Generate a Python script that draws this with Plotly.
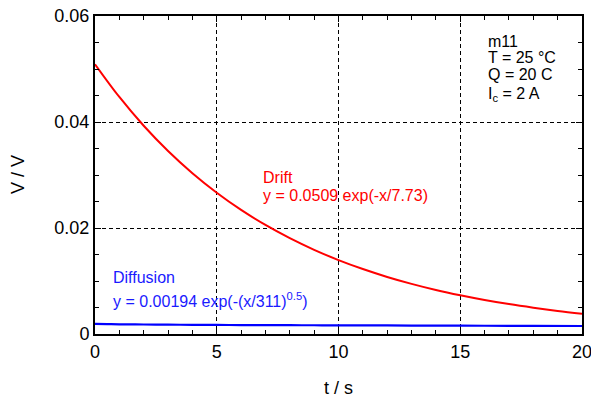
import plotly.graph_objects as go

# Values
t_drift = [0, 1, 2, 3, 4, 5, 6, 7, 8, 9, 10, 11, 12, 13, 14, 15, 16, 17, 18, 19, 20]
v_drift = [0.0509, 0.04472, 0.03929, 0.03452, 0.03033, 0.02665, 0.02341, 0.02057,
           0.01808, 0.01588, 0.01395, 0.01226, 0.01077, 0.00946, 0.00831, 0.00731,
           0.00642, 0.00564, 0.00496, 0.00435, 0.00383]
t_diff = [0, 0.5, 1, 2, 3, 4, 5, 6, 7, 8, 9, 10, 12, 14, 16, 18, 20]
v_diff = [0.00192, 0.00186, 0.00183, 0.00179, 0.00176, 0.00173, 0.00171, 0.00169,
          0.00168, 0.00166, 0.00165, 0.00163, 0.00161, 0.00158, 0.00156, 0.00154, 0.00151]
x_ticks = [0, 5, 10, 15, 20]
y_ticks = [0, 0.02, 0.04, 0.06]
y_ticktext = ["0", "0.02", "0.04", "0.06"]

FONT = "Liberation Sans, Arial, sans-serif"
BLUE = "#1a1aff"

fig = go.Figure()
fig.add_trace(go.Scatter(x=t_drift, y=v_drift, mode="lines",
                         line=dict(color="red", width=2, shape="spline"), showlegend=False))
fig.add_trace(go.Scatter(x=t_diff, y=v_diff, mode="lines",
                         line=dict(color="blue", width=2.2, shape="spline"), showlegend=False))

axis_common = dict(
    showline=True, linecolor="black", linewidth=2, mirror="allticks",
    ticks="inside", ticklen=6, tickwidth=1, tickcolor="black",
    showgrid=True, gridcolor="black", griddash="4px,3px", gridwidth=1,
    zeroline=False, automargin=False, ticklabeloverflow="allow",
    tickfont=dict(size=18, color="black", family=FONT),
)

fig.update_xaxes(range=[0, 20], tickvals=x_ticks,
                 minor=dict(dtick=1, ticks="inside", ticklen=4, tickcolor="black", showgrid=False),
                 **axis_common)
fig.update_yaxes(range=[0, 0.06], tickvals=y_ticks, ticktext=y_ticktext,
                 minor=dict(dtick=0.005, ticks="inside", ticklen=4, tickcolor="black", showgrid=False),
                 **axis_common)

def label(x, y, text, color, size=16):
    fig.add_annotation(xref="x", yref="y", x=x, y=y, text=text, showarrow=False,
                       xanchor="left", yanchor="middle", align="left",
                       font=dict(size=size, color=color, family=FONT))

# info box
label(16.07, 0.05528, "m11", "black", 16)
label(16.07, 0.05211, "T = 25 °C", "black", 16)
label(16.07, 0.04887, "Q = 20 C", "black", 16)
label(16.07, 0.04520, "I<sub>c</sub> = 2 A", "black", 16)
# drift
label(6.80, 0.02950, "Drift", "red")
label(6.80, 0.02613, "y = 0.0509 exp(-x/7.73)", "red")
# diffusion
label(0.67, 0.01065, "Diffusion", BLUE)
label(0.67, 0.00650, "y = 0.00194 exp(-(x/311)<sup>0.5</sup>)", BLUE)

# axis titles
fig.add_annotation(xref="paper", yref="paper", x=0.5, y=-(388 - 334) / 318,
                   text="t / s", showarrow=False, xanchor="center", yanchor="middle",
                   font=dict(size=18, color="black", family=FONT))
fig.add_annotation(xref="paper", yref="paper", x=(18 - 95) / 487, y=0.5,
                   text="V / V", showarrow=False, xanchor="center", yanchor="middle",
                   textangle=-90, font=dict(size=18, color="black", family=FONT))

fig.update_layout(
    width=591, height=401,
    margin=dict(l=95, r=9, t=16, b=67),
    paper_bgcolor="white", plot_bgcolor="white",
    font=dict(family=FONT, color="black"),
)

fig.write_html("out.html")
